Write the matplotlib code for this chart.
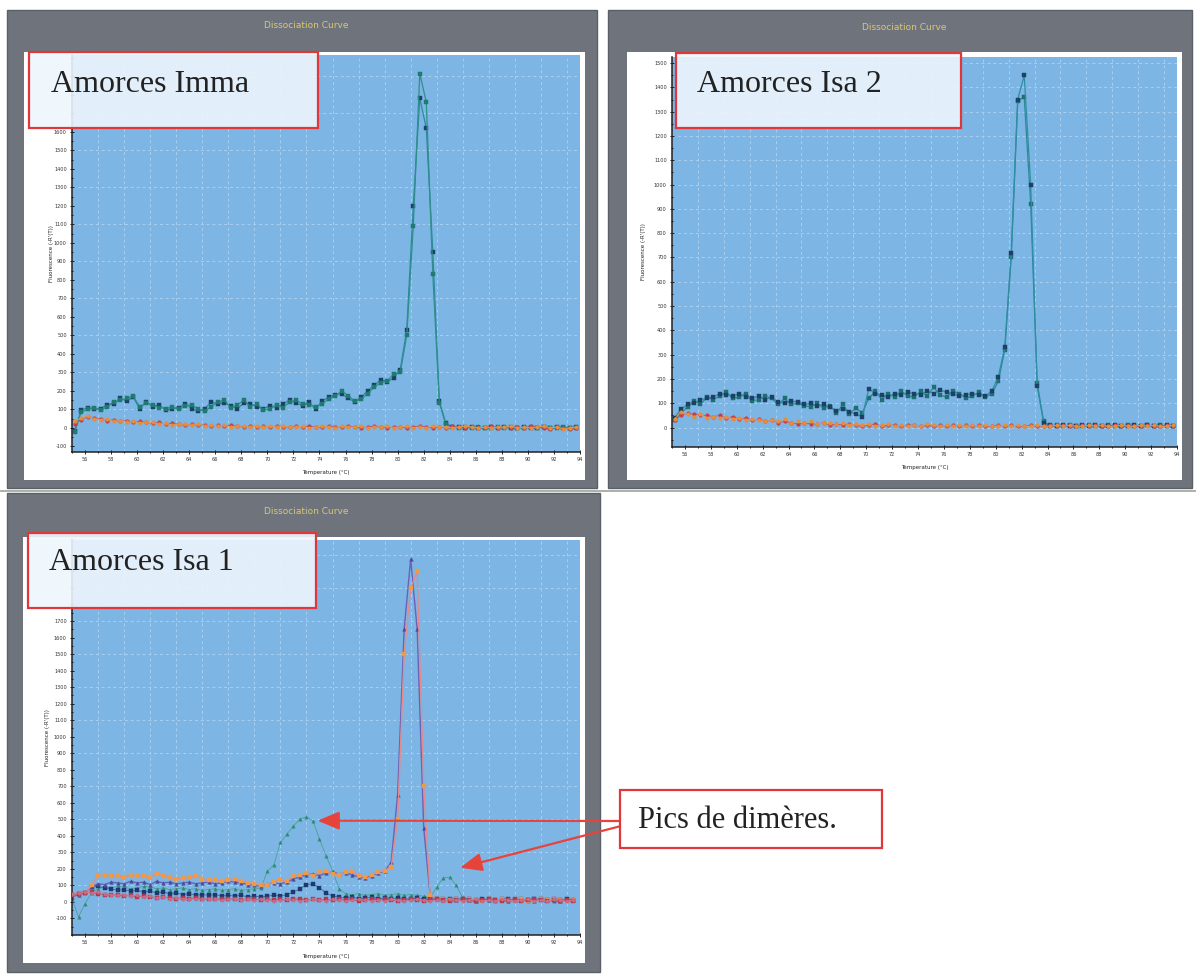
import numpy as np
import matplotlib
matplotlib.use("Agg")
import matplotlib.pyplot as plt
from matplotlib.patches import Rectangle
from matplotlib.ticker import MultipleLocator, FixedLocator, FuncFormatter

# ---------------- data ----------------
# instrument temperature grids (0.5 °C steps)
temp_a = np.round(55.2 + 0.5 * np.arange(78), 1)   # panels "Imma" and "Isa 2"
temp_b = np.round(55.0 + 0.5 * np.arange(78), 1)   # panel "Isa 1"

panel_titles = ["Amorces Imma", "Amorces Isa 2", "Amorces Isa 1"]
x_ticks = list(range(56, 95, 2))

# --- Amorces Imma ---
imma_s1 = [-20, 85, 100, 110, 95, 115, 140, 150, 160, 170,
           115, 135, 125, 110, 105, 115, 100, 120, 125, 100,
           90, 115, 140, 150, 110, 125, 150, 115, 130, 95,
           105, 125, 110, 140, 150, 130, 125, 115, 130, 155,
           170, 200, 175, 145, 155, 185, 220, 245, 255, 290,
           300, 500, 1090, 1915, 1760, 830, 135, 20, 5, 0,
           5, 0, 5, 0, 0, 5, 0, 5, 0, 0, 5, 0, 5, 0, 0, 5, 0, 0]
imma_s2 = [-15, 95, 110, 100, 105, 125, 130, 160, 145, 165,
           105, 140, 115, 125, 95, 105, 110, 130, 105, 90,
           105, 140, 130, 135, 120, 105, 135, 130, 115, 105,
           120, 110, 130, 150, 135, 120, 140, 100, 145, 165,
           180, 185, 160, 140, 165, 200, 230, 260, 250, 270,
           315, 530, 1200, 1780, 1620, 950, 145, 25, 5, 5,
           0, 5, 0, 0, 5, 0, 5, 0, 0, 5, 0, 0, 5, 0, 5, 0, 0, 5]
imma_c1 = [20, 45, 60, 55, 50, 40, 45, 35, 40, 30,
           35, 30, 25, 30, 20, 25, 20, 15, 20, 15,
           15, 10, 15, 10, 15, 10, 5, 10, 5, 10,
           5, 10, 5, 5, 10, 5, 10, 5, 5, 10,
           5, 5, 10, 5, 0, 5, 10, 5, 0, 5,
           5, 0, 5, 10, 5, 0, 5, 0, 10, 5,
           0, 5, 0, 5, 10, 0, 5, 0, 5, 0, 10, 5, 0, -5, 5, 0, -5, 0]
imma_c2 = [35, 55, 65, 50, 45, 50, 35, 40, 30, 35,
           25, 30, 30, 20, 25, 15, 20, 20, 15, 20,
           10, 15, 10, 15, 5, 10, 10, 5, 10, 5,
           10, 5, 10, 5, 5, 10, 0, 5, 10, 5,
           0, 10, 5, 5, 10, 0, 5, 5, 10, 0,
           5, 10, 0, 5, 0, 10, 5, 5, 0, 5,
           10, 5, 0, 5, 0, 5, 5, 10, 0, 5, 0, 5, 10, 0, 5, -5, 0, 5]

# --- Amorces Isa 2 ---
isa2_s1 = [40, 75, 95, 100, 115, 120, 125, 140, 135, 130,
           140, 125, 120, 130, 115, 125, 105, 100, 110, 105,
           95, 100, 90, 95, 85, 70, 75, 65, 55, 45,
           160, 140, 135, 125, 140, 135, 145, 140, 135, 150,
           140, 155, 145, 140, 130, 135, 140, 135, 130, 150,
           210, 330, 720, 1350, 1450, 1000, 170, 20, 10, 5,
           10, 5, 5, 10, 5, 10, 5, 5, 10, 5, 5, 10, 5, 10, 5, 5, 10, 5]
isa2_s2 = [30, 60, 85, 110, 95, 125, 115, 130, 145, 120,
           125, 140, 110, 115, 130, 120, 95, 120, 95, 100,
           90, 85, 100, 80, 90, 60, 95, 55, 80, 60,
           120, 150, 115, 140, 125, 150, 130, 125, 150, 130,
           165, 135, 125, 150, 140, 120, 130, 145, 125, 140,
           190, 320, 700, 1345, 1360, 920, 185, 25, 5, 10,
           5, 10, 5, 5, 10, 5, 5, 10, 5, 5, 10, 5, 5, 10, 5, 10, 5, 5]
isa2_c1 = [30, 50, 60, 55, 50, 50, 45, 50, 40, 45,
           35, 40, 30, 35, 25, 30, 20, 25, 20, 15,
           20, 15, 15, 20, 10, 15, 10, 15, 10, 5,
           10, 15, 5, 10, 10, 5, 10, 10, 5, 10,
           5, 10, 5, 10, 5, 10, 5, 10, 5, 5,
           10, 5, 10, 5, 5, 10, 5, 5, 10, 5,
           10, 5, 5, 10, 5, 10, 5, 5, 10, 5, 10, 5, 5, 10, 5, 5, 10, 5]
isa2_c2 = [35, 65, 55, 45, 55, 40, 45, 40, 45, 35,
           40, 30, 35, 30, 25, 30, 25, 35, 20, 25,
           20, 25, 15, 20, 20, 15, 20, 10, 15, 10,
           15, 5, 10, 15, 5, 10, 5, 10, 5, 15,
           10, 5, 10, 5, 10, 5, 10, 5, 10, 5,
           5, 10, 5, 10, 5, 5, 10, 5, 5, 10,
           5, 10, 5, 5, 10, 5, 10, 5, 5, 10, 5, 5, 10, 5, 10, 5, 5, 10]

# --- Amorces Isa 1 ---
isa1_purple = [30, 45, 60, 90, 110, 105, 120, 115, 110, 125,
               115, 120, 105, 125, 115, 120, 110, 115, 120, 110,
               115, 120, 110, 115, 125, 120, 115, 105, 100, 95,
               110, 115, 110, 120, 140, 150, 165, 170, 160, 175,
               180, 170, 175, 165, 150, 145, 160, 175, 185, 240,
               650, 1650, 2075, 1650, 450, 35, 20, 10, 15, 10,
               15, 10, 5, 15, 10, 10, 15, 5, 10, 15, 10, 5, 15, 10, 10, 5, 15, 10]
isa1_orange = [40, 50, 55, 100, 160, 165, 155, 160, 150, 165,
               155, 160, 150, 170, 160, 150, 140, 145, 150, 155,
               140, 130, 135, 125, 130, 140, 125, 115, 110, 100,
               105, 120, 130, 125, 155, 165, 175, 160, 180, 185,
               170, 165, 180, 185, 160, 150, 165, 180, 190, 210,
               500, 1500, 1900, 2000, 700, 40, 20, 15, 10, 15,
               10, 15, 10, 5, 15, 10, 15, 10, 10, 15, 5, 10, 15, 10, 15, 10, 5, 10]
isa1_green = [15, -90, -10, 55, 80, 90, 85, 95, 90, 80,
              85, 95, 90, 80, 85, 75, 80, 85, 75, 80,
              70, 75, 80, 70, 75, 80, 70, 75, 80, 85,
              185, 225, 360, 410, 460, 500, 515, 490, 380, 280,
              190, 80, 50, 45, 50, 40, 45, 50, 40, 45,
              50, 40, 45, 40, 35, 25, 90, 145, 150, 100,
              25, 15, 10, 15, 10, 5, 15, 10, 10, 15, 5, 10, 15, 10, 5, 10, 15, 10]
isa1_navy = [40, 50, 55, 90, 95, 85, 80, 70, 75, 65,
             70, 60, 65, 55, 60, 50, 55, 45, 50, 40,
             45, 40, 45, 35, 40, 35, 40, 30, 35, 30,
             35, 40, 35, 45, 60, 80, 105, 110, 85, 55,
             35, 30, 25, 30, 20, 25, 30, 20, 25, 20,
             25, 20, 15, 25, 20, 15, 20, 15, 20, 15,
             20, 15, 10, 20, 15, 10, 15, 20, 10, 15, 10, 15, 20, 10, 15, 10, 15, 10]
isa1_c1 = [45, 50, 55, 60, 50, 45, 40, 45, 35, 40,
           30, 35, 30, 25, 30, 25, 20, 25, 20, 25,
           20, 15, 20, 15, 20, 15, 10, 15, 20, 10,
           15, 10, 15, 10, 15, 20, 10, 15, 10, 15,
           10, 15, 10, 15, 5, 10, 15, 10, 15, 10,
           5, 10, 15, 10, 5, 10, 15, 10, 5, 10,
           15, 10, 5, 10, 15, 10, 5, 10, 15, 5, 10, 15, 10, 5, 10, 5, 10, 5]
isa1_c2 = [50, 55, 60, 55, 60, 50, 45, 40, 45, 35,
           40, 30, 35, 25, 30, 20, 25, 20, 15, 20,
           15, 20, 15, 10, 15, 20, 10, 15, 10, 15,
           10, 5, 10, 15, 10, 5, 10, 15, 10, 5,
           15, 10, 5, 10, 15, 10, 5, 10, 5, 15,
           10, 5, 10, 15, 10, 5, 10, 5, 15, 10,
           5, 10, 15, 5, 10, 5, 15, 10, 5, 10, 15, 5, 10, 5, 15, 10, 5, 10]

# dimer peaks pointed at by the arrows (temperature, fluorescence)
dimer_pointer_1 = (73.85, 492)
dimer_pointer_2 = (84.8, 207)

# ---------------- figure ----------------
W, H = 1196, 976
fig = plt.figure(figsize=(W / 100, H / 100), dpi=100)
fig.patch.set_facecolor("white")

def frac(x0, y0, x1, y1):
    return [x0 / W, 1 - y1 / H, (x1 - x0) / W, (y1 - y0) / H]

bg = fig.add_axes([0, 0, 1, 1])
bg.set_xlim(0, W); bg.set_ylim(H, 0); bg.axis("off"); bg.set_zorder(0)
fg = fig.add_axes([0, 0, 1, 1])
fg.set_xlim(0, W); fg.set_ylim(H, 0); fg.axis("off"); fg.set_zorder(10)
fg.patch.set_alpha(0)

FRAME = "#6f747c"
BLUE = "#7db5e4"
GRID = "#a9cff0"
TITLE_COL = "#dcc670"
RED_BOX = "#e0383a"

layout = [
    dict(frame=(7, 10, 597, 488), white=(24, 52, 585, 480), ax=(72, 55, 580, 452),
         title=(306, 26), box=(29, 52, 318, 128), text=(51, 84),
         ylim=(-130, 2015), yticks=range(-100, 2001, 100), grid=range(100, 2001, 200),
         label_max=1600, ylab_dx=18, xlab_dy=18),
    dict(frame=(608, 10, 1192, 488), white=(627, 52, 1182, 480), ax=(672, 57, 1177, 447),
         title=(904, 28), box=(676, 53, 961, 128), text=(697, 85),
         ylim=(-80, 1525), yticks=range(0, 1501, 100), grid=range(0, 1501, 100),
         label_max=1500, ylab_dx=26, xlab_dy=18),
    dict(frame=(7, 493, 600, 972), white=(23, 537, 585, 963), ax=(72, 540, 580, 935),
         title=(306, 512), box=(28, 533, 316, 608), text=(49, 563),
         ylim=(-200, 2190), yticks=range(-100, 2101, 100), grid=range(100, 2101, 200),
         label_max=1700, ylab_dx=22, xlab_dy=19),
]

# separator line under the upper row
bg.plot([0, W], [491, 491], color="#9aa59a", lw=1.2)

axes = []
for i, L in enumerate(layout):
    fx0, fy0, fx1, fy1 = L["frame"]
    bg.add_patch(Rectangle((fx0, fy0), fx1 - fx0, fy1 - fy0, facecolor=FRAME,
                           edgecolor="#5b6068", lw=1))
    wx0, wy0, wx1, wy1 = L["white"]
    bg.add_patch(Rectangle((wx0, wy0), wx1 - wx0, wy1 - wy0, facecolor="white", edgecolor="none"))
    fg.text(L["title"][0], L["title"][1], "Dissociation Curve", color=TITLE_COL,
            fontsize=6.5, ha="center", va="center")

    ax = fig.add_axes(frac(*L["ax"]))
    ax.set_zorder(5)
    ax.set_facecolor(BLUE)
    ax.set_xlim(55, 94)
    ax.set_ylim(*L["ylim"])
    ax.xaxis.set_major_locator(FixedLocator(x_ticks))
    ax.xaxis.set_minor_locator(MultipleLocator(1))
    ax.yaxis.set_major_locator(FixedLocator(list(L["yticks"])))
    ax.yaxis.set_minor_locator(MultipleLocator(50))
    lm = L["label_max"]
    # labels hidden behind the caption box are left out
    ax.yaxis.set_major_formatter(FuncFormatter(lambda v, p, lm=lm: f"{v:.0f}" if v <= lm else ""))
    ax.tick_params(which="both", labelsize=3.6, labelcolor="#333333", length=2.5,
                   width=0.6, direction="inout", pad=2.5, color="black")
    ax.tick_params(which="minor", length=1.5)
    for s in ("top", "right"):
        ax.spines[s].set_visible(False)
    for s in ("left", "bottom"):
        ax.spines[s].set_linewidth(1.1)
        ax.spines[s].set_color("#222222")
    for gx in range(57, 94, 2):
        ax.axvline(gx, color=GRID, lw=0.7, ls=(0, (3, 3)), zorder=0.5)
    for gy in L["grid"]:
        ax.axhline(gy, color=GRID, lw=0.7, ls=(0, (3, 3)), zorder=0.5)
    ax0, ay0, ax1, ay1 = L["ax"]
    ax.set_ylabel("Fluorescence (-R'(T))", fontsize=4, color="#222222")
    ax.yaxis.set_label_coords(-L["ylab_dx"] / (ax1 - ax0), 0.5)
    ax.set_xlabel("Temperature (°C)", fontsize=4, color="#222222")
    ax.xaxis.set_label_coords(0.5, -L["xlab_dy"] / (ay1 - ay0))
    axes.append(ax)

    bx0, by0, bx1, by1 = L["box"]
    fg.add_patch(Rectangle((bx0, by0), bx1 - bx0, by1 - by0, facecolor="#eef5fc",
                           alpha=0.9, edgecolor="none"))
    fg.add_patch(Rectangle((bx0, by0), bx1 - bx0, by1 - by0, facecolor="none",
                           edgecolor=RED_BOX, lw=1.6))
    fg.text(L["text"][0], L["text"][1], panel_titles[i], family="Liberation Serif",
            fontsize=23, color="#222222", ha="left", va="center")

# ---- curves ----
def curve(ax, t, y, line, mk, marker="s", ms=3.0, lw=0.9, z=2):
    ax.plot(t, y, color=line, lw=lw, marker=marker, ms=ms, mfc=mk, mec=mk, mew=0.3, zorder=z)

a1, a2, a3 = axes
curve(a1, temp_a, imma_s2, "#2c8a9c", "#1e3f66")
curve(a1, temp_a, imma_s1, "#2f8f8a", "#1f7a70")
curve(a1, temp_a, imma_c1, "#d05060", "#c83c4a", marker="o", ms=2.6, lw=0.6, z=3)
curve(a1, temp_a, imma_c2, "#e8a050", "#e88e3a", marker="o", ms=2.6, lw=0.6, z=3)

curve(a2, temp_a, isa2_s2, "#2c8a9c", "#1f6e70")
curve(a2, temp_a, isa2_s1, "#2f8fa0", "#1e3f66")
curve(a2, temp_a, isa2_c1, "#d05060", "#c83c4a", marker="o", ms=2.6, lw=0.6, z=3)
curve(a2, temp_a, isa2_c2, "#e8a050", "#e88e3a", marker="o", ms=2.6, lw=0.6, z=3)

curve(a3, temp_b, isa1_green, "#3f9f88", "#2e8b6e", marker="^", ms=2.4, lw=0.5)
curve(a3, temp_b, isa1_navy, "#3a5a90", "#1d3a70", marker="s", ms=2.4, lw=0.5)
curve(a3, temp_b, isa1_purple, "#6a62b8", "#4b4a9a", marker="^", ms=2.6, lw=1.0)
curve(a3, temp_b, isa1_orange, "#e58a8a", "#f09a48", marker="s", ms=3.0, lw=1.0)
curve(a3, temp_b, isa1_c1, "#c04858", "#b03a4c", marker="s", ms=2.4, lw=0.6, z=3)
curve(a3, temp_b, isa1_c2, "#d87890", "#c86a88", marker="o", ms=2.4, lw=0.6, z=3)

# ---- "Pics de dimères." annotation ----
fg.add_patch(Rectangle((620, 790), 262, 58, facecolor="white", edgecolor=RED_BOX, lw=1.6))
fg.text(638, 820, "Pics de dimères.", family="Liberation Serif", fontsize=22,
        color="#222222", ha="left", va="center")
arrow_kw = dict(arrowstyle="-|>,head_length=0.6,head_width=0.25", color="#e8433a",
                lw=1.6, mutation_scale=22, shrinkA=0, shrinkB=0)
a3.annotate("", xy=dimer_pointer_1, xycoords="data", xytext=(621, H - 821),
            textcoords="figure pixels", arrowprops=arrow_kw, zorder=20)
a3.annotate("", xy=dimer_pointer_2, xycoords="data", xytext=(621, H - 826),
            textcoords="figure pixels", arrowprops=arrow_kw, zorder=20)

fig.savefig("out.png", dpi=100, facecolor="white")
